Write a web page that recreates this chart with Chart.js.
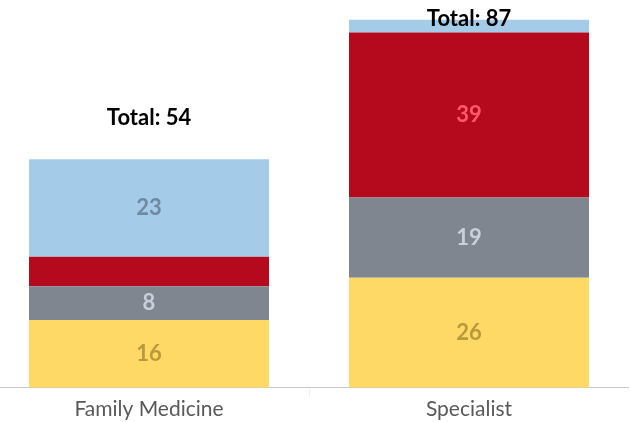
<!DOCTYPE html>
<html>
<head>
<meta charset="utf-8">
<script src="https://cdn.jsdelivr.net/npm/chart.js@4/dist/chart.umd.min.js"></script>
<style>
    html, body { margin: 0; padding: 0; background: #fff; overflow: hidden; }
    #wrap { position: absolute; left: -11px; top: 0; width: 640px; height: 422px; }
</style>
</head>
<body>
<div id="wrap"><canvas id="chart"></canvas></div>
<script>
// データ
const categories = ["Family Medicine", "Specialist"];
const seriesYellow = [16, 26];
const seriesGray = [8, 19];
const seriesRed = [7, 39];
const seriesBlue = [23, 3];

const FONT = "Lato, 'Open Sans', sans-serif";

// 各セグメント中央の数値ラベル
const segmentLabels = {
    id: "segmentLabels",
    afterDatasetsDraw(chart) {
        const ctx = chart.ctx;
        ctx.save();
        ctx.font = "bold 22px " + FONT;
        ctx.textAlign = "center";
        ctx.textBaseline = "middle";
        chart.data.datasets.forEach((ds, di) => {
            const meta = chart.getDatasetMeta(di);
            meta.data.forEach((bar, i) => {
                const v = ds.data[i];
                if (v < 8) return;
                ctx.fillStyle = ds.labelColor;
                ctx.fillText(String(v), bar.x, (bar.y + bar.base) / 2);
            });
        });
        ctx.restore();
    },
};

// 合計ラベル（上端はチャート内に収める）
const totalLabels = {
    id: "totalLabels",
    afterDatasetsDraw(chart) {
        const ctx = chart.ctx;
        const last = chart.getDatasetMeta(chart.data.datasets.length - 1);
        ctx.save();
        ctx.font = "bold 22px " + FONT;
        ctx.textAlign = "center";
        ctx.textBaseline = "middle";
        ctx.fillStyle = "#000";
        categories.forEach((c, i) => {
            const total = chart.data.datasets.reduce((s, ds) => s + ds.data[i], 0);
            const bar = last.data[i];
            const y = Math.max(bar.y - 41, chart.chartArea.top + 12);
            ctx.fillText("Total: " + total, bar.x, y);
        });
        ctx.restore();
    },
};

new Chart(document.getElementById("chart").getContext("2d"), {
    type: "bar",
    data: {
        labels: categories,
        datasets: [
            { label: "Yellow", data: seriesYellow, backgroundColor: "#FFD966", labelColor: "#B8993C" },
            { label: "Gray", data: seriesGray, backgroundColor: "#7F8690", labelColor: "#C8D0DC" },
            { label: "Red", data: seriesRed, backgroundColor: "#B5091D", labelColor: "#FF5A6B" },
            { label: "Blue", data: seriesBlue, backgroundColor: "#A4CCE8", labelColor: "#6E8AA3" },
        ],
    },
    options: {
        responsive: true,
        maintainAspectRatio: false,
        animation: false,
        layout: { padding: { top: 7, left: 0, right: 0, bottom: 0 } },
        datasets: {
            bar: { categoryPercentage: 0.75, barPercentage: 1, borderWidth: 0 },
        },
        plugins: {
            legend: { display: false },
            tooltip: { enabled: false },
        },
        scales: {
            x: {
                stacked: true,
                grid: {
                    drawOnChartArea: false,
                    color: "#eeeeee",
                    tickLength: 9,
                },
                border: { display: true, color: "#c8c8c8", dash: [4, 2] },
                ticks: {
                    color: "#595959",
                    padding: 0,
                    font: { family: FONT, size: 21 },
                },
            },
            y: {
                stacked: true,
                display: false,
                min: 0,
                max: 90,
            },
        },
    },
    plugins: [segmentLabels, totalLabels],
});
</script>
</body>
</html>
